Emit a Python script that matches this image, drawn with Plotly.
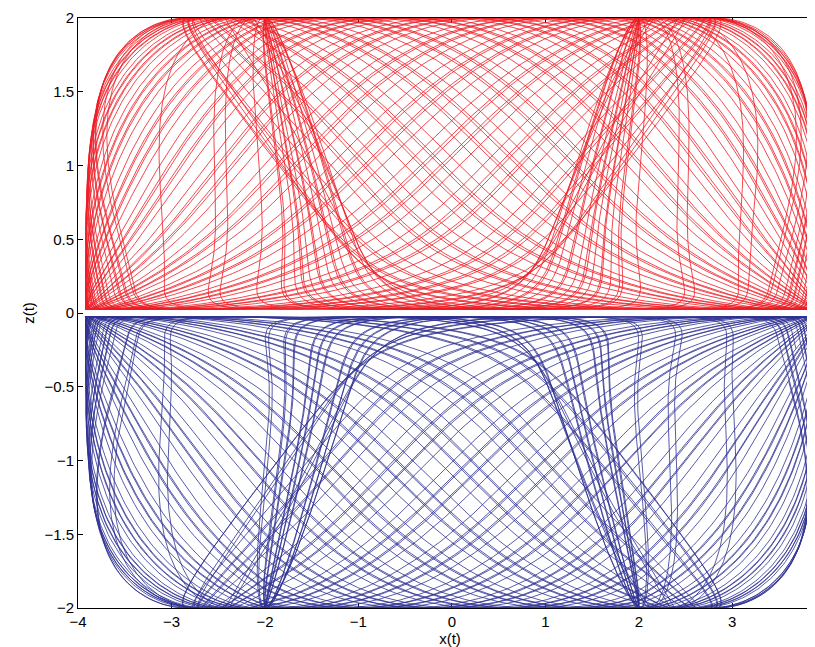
import math
import numpy as np
import plotly.graph_objects as go

# ---- axis data ----
x_ticks = [-4, -3, -2, -1, 0, 1, 2, 3]
y_ticks = [-2, -1.5, -1, -0.5, 0, 0.5, 1, 1.5, 2]
x_range = [-4, 3.96]
y_range = [-2, 2]

# ---- trajectory parameters ----
r_outer = 3.92       # outer x amplitude (envelope at x = +-3.9)
inner_x = 2.0        # inner x amplitude (vertical bundles at x = +-2)
z_top = 2.0          # |z| extreme
z_gap = 0.025        # gap between red and blue near z = 0
top_corner_x = 3.0   # |x| reached at |z| = 2
flare_x = 2.9        # inner bundle position near z = 0
x_cycles = 16        # x periods per near-repeat
passes = 3
detune = [0.0010, -0.0009]   # red, blue
phase_width = 0.7
dip_power = 8
x_square = 0.45
z_square = 0.8
z_power = 1.4
x_phase = [0.2, 1.1]         # red, blue
psi_start = [0.6, -0.9]      # red, blue
colors = ["#ED1C24", "#2E3192"]
signs = [1, -1]
pts_per_cycle = 500


def trajectory(j):
    n = x_cycles * passes
    t = np.linspace(0, 2 * math.pi * n, n * pts_per_cycle + 1)
    delta = 1.0 / x_cycles + detune[j]
    psi = psi_start[j] + delta * t
    th1 = t + x_phase[j]
    th2 = 2 * th1 + psi
    pw = np.angle(np.exp(1j * psi))
    amp = inner_x + (r_outer - inner_x) * (1 - np.exp(-(pw / phase_width) ** dip_power))
    x = amp * np.tanh(x_square * np.sin(th1)) / math.tanh(x_square)
    w = (1 - np.tanh(z_square * np.cos(th2)) / math.tanh(z_square)) / 2
    z = z_gap + (z_top - z_gap) * w ** z_power
    return x, z


def warp(xr, za):
    a = np.abs(xr)
    shrink = (r_outer - top_corner_x) * (1 - np.sqrt(np.clip(1 - (za / z_top) ** 4, 0, 1)))
    a = a - np.maximum(a - inner_x, 0) / (r_outer - inner_x) * shrink
    c = (flare_x - inner_x) / ((r_outer - inner_x) * (inner_x / r_outer))
    a = a + (r_outer - a) * (a / r_outer) * c * np.exp(-za / 0.3)
    return np.sign(xr) * np.minimum(a, r_outer)


fig = go.Figure()
for j in range(2):
    xr, za = trajectory(j)
    xs = warp(xr, za)
    fig.add_trace(go.Scatter(x=xs, y=signs[j] * za, mode="lines",
                             line=dict(color=colors[j], width=0.8),
                             hoverinfo="skip", showlegend=False))

font = dict(family="Liberation Sans, Arial", size=15, color="black")
axis_common = dict(showline=True, mirror="ticks", linecolor="black", linewidth=1,
                   ticks="inside", ticklen=5, tickcolor="black", showgrid=False,
                   zeroline=False, layer="below traces", tickfont=font)

fig.update_layout(
    width=815, height=647,
    margin=dict(l=70, r=1, t=10, b=47),
    paper_bgcolor="white", plot_bgcolor="white",
    xaxis=dict(range=x_range, tickvals=x_ticks, **axis_common,
               title=dict(text="x(t)", standoff=4, font=font)),
    yaxis=dict(range=y_range, tickvals=y_ticks, **axis_common,
               title=dict(text="z(t)", standoff=6, font=font)),
)
fig.write_html("out.html")
